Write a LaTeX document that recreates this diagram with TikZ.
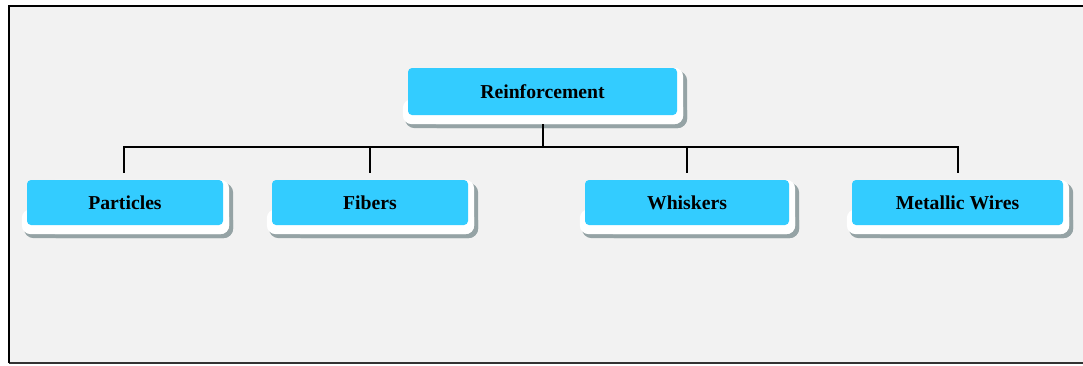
\documentclass[tikz,border=0pt]{standalone}
\usepackage{fontspec}
\setmainfont{Liberation Serif}
\usetikzlibrary{backgrounds,calc}
\definecolor{boxcyan}{HTML}{33CCFF}
\definecolor{bgfill}{HTML}{F2F2F2}
\definecolor{shadowgrey}{HTML}{95A3A5}
\tikzset{
  box/.style={rounded corners=4pt, fill=boxcyan, draw=none, inner sep=0pt,
    font=\fontsize{19.7}{22}\selectfont\bfseries, text=black},
  conn/.style={draw=black, line width=2pt},
  shadowlayer/.style={fill=shadowgrey, rounded corners=10pt},
  whitelayer/.style={fill=white, rounded corners=9pt}
}
\newcommand{\boxlayers}[1]{%
  \fill[shadowlayer] ($(#1.south west)+(-3,-14)$) rectangle ($(#1.south east)+(10,13)$);
  \fill[shadowlayer] ($(#1.north west)+(20,3)$) rectangle ($(#1.south east)+(10,13)$);
  \fill[whitelayer] ($(#1.north west)+(20,0)$) rectangle ($(#1.south east)+(6,9)$);
  \fill[whitelayer] ($(#1.south west)+(-5,-16)$) rectangle ($(#1.south east)+(6,9)$);
}
\begin{document}
\begin{tikzpicture}[x=1pt,y=-1pt]
\useasboundingbox (0,0) rectangle (1083,365);

\node[box, minimum width=269pt, minimum height=47pt] (r) at (542.5,91.5) {Reinforcement};
\node[box, minimum width=196pt, minimum height=45pt] (p) at (125,202.5) {Particles};
\node[box, minimum width=196pt, minimum height=45pt] (f) at (370,202.5) {Fibers};
\node[box, minimum width=204pt, minimum height=45pt] (w) at (687,202.5) {Whiskers};
\node[box, minimum width=211pt, minimum height=45pt] (m) at (957.5,202.5) {Metallic Wires};

\begin{scope}[on background layer]
  \fill[white] (0,0) rectangle (1083,365);
  \fill[bgfill] (9,6) rectangle (1083,363);
  \draw[line width=1.5pt, black!80] (9,363) -- (1083,363);
  \draw[line width=2.5pt, black] (9,363) -- (9,6) -- (1083,6);
  \boxlayers{r}
  \boxlayers{p}
  \boxlayers{f}
  \boxlayers{w}
  \boxlayers{m}
\end{scope}

\coordinate (bus) at (0,147);
\coordinate (rb) at ($(r.south)+(0,9)$);
\coordinate (pt) at ($(p.north)+(-1,-7)$);
\coordinate (ft) at ($(f.north)+(0,-7)$);
\coordinate (wt) at ($(w.north)+(0,-7)$);
\coordinate (mt) at ($(m.north)+(0,-7)$);
\draw[conn] (rb) -- (rb |- bus);
\draw[conn] (pt) -- (pt |- bus) -- (mt |- bus) -- (mt);
\draw[conn] (ft) -- (ft |- bus);
\draw[conn] (wt) -- (wt |- bus);
\end{tikzpicture}
\end{document}
